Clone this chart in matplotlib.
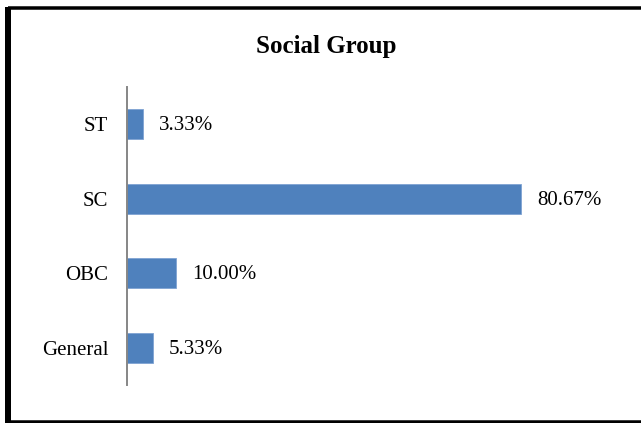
import matplotlib
matplotlib.use("Agg")
import matplotlib.pyplot as plt
from matplotlib.lines import Line2D

# Social group shares (percent), bottom to top
categories = ["General", "OBC", "SC", "ST"]
values = [5.33, 10.00, 80.67, 3.33]
value_labels = ["5.33%", "10.00%", "80.67%", "3.33%"]
title = "Social Group"

W, H, DPI = 641, 423, 100
plt.rcParams["font.family"] = ["Liberation Serif", "DejaVu Serif"]

fig = plt.figure(figsize=(W / DPI, H / DPI), dpi=DPI)

# Plot area placed in pixel units
left_px, right_px = 127, 567
top_px, bottom_px = 87, 385
ax = fig.add_axes([left_px / W, (H - bottom_px) / H,
                   (right_px - left_px) / W, (bottom_px - top_px) / H])

bar_color = "#4F81BD"
ax.barh(range(len(categories)), values, height=0.4, color=bar_color,
        edgecolor="#7FA3D3", linewidth=0.6, zorder=2)

ax.set_xlim(0, 90)
ax.set_ylim(-0.5, len(categories) - 0.5)
ax.set_yticks(range(len(categories)))
ax.set_yticklabels(categories, fontsize=15, color="black")
ax.tick_params(axis="y", length=0, pad=13.5)
ax.set_xticks([])

for side in ("top", "right", "bottom"):
    ax.spines[side].set_visible(False)
ax.spines["left"].set_color("#868686")
ax.spines["left"].set_linewidth(1.4)
ax.spines["left"].set_zorder(3)

for i, (v, lab) in enumerate(zip(values, value_labels)):
    ax.annotate(lab, xy=(v, i), xytext=(11.5, -1.2), textcoords="offset points",
                ha="left", va="center", fontsize=15, color="black")

fig.text(326 / W, 1 - 46 / H, title, ha="center", va="center",
         fontsize=18, fontweight="bold", color="black")


def px_line(x0, y0, x1, y1, width_px):
    """Draw a black frame segment given in pixel coordinates (origin top-left)."""
    fig.add_artist(Line2D([x0 / W, x1 / W], [1 - y0 / H, 1 - y1 / H],
                          transform=fig.transFigure, color="black",
                          linewidth=width_px * 72 / DPI,
                          solid_capstyle="butt", zorder=10))


# Chart frame: thick left edge, top and bottom running off the right side
px_line(8, 8.5, 660, 8.5, 3.5)
px_line(8, 421.5, 660, 421.5, 3.5)
px_line(8, 6.8, 8, 423.2, 6)

fig.savefig("out.png", dpi=DPI)
